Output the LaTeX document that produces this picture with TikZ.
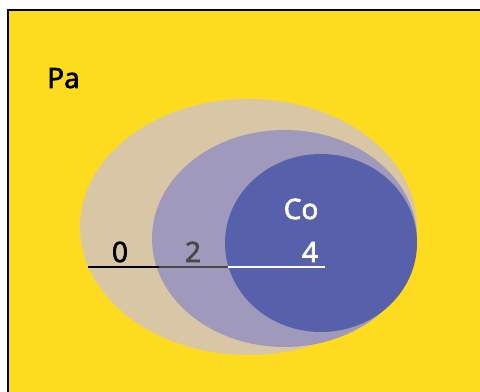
\documentclass[tikz,border=0pt]{standalone}
\usepackage{fontspec}
\setmainfont{Open Sans}
\newfontfamily\lblfont{Open Sans}[UprightFeatures={FakeBold=2.6}]
\usepackage{tikz}
\usetikzlibrary{positioning,calc}
\definecolor{payellow}{RGB}{253,220,31}
\definecolor{ringtan}{RGB}{217,198,165}
\definecolor{ringlav}{RGB}{159,153,188}
\definecolor{coblue}{RGB}{87,96,170}
\definecolor{scalegray}{RGB}{72,72,72}

\begin{document}
\begin{tikzpicture}[x=0.75pt, y=-0.75pt,
  lbl/.style={font=\lblfont\fontsize{21}{25}\selectfont, inner sep=0pt},
  scale line/.style={line width=1.6pt}]
  \useasboundingbox (0,0) rectangle (480,392);
  % Background
  \fill[white] (0,0) rectangle (480,392);
  \draw[fill=payellow, line width=1.1pt] (8,10) rectangle (490,400);
  \node[lbl, anchor=base west] (pa) at (47,88) {Pa};
  % Nested ellipses
  \fill[ringtan] (248.5,227) ellipse [x radius=168.5, y radius=128];
  \fill[ringlav] (284.5,238.5) ellipse [x radius=132.5, y radius=108.5];
  \fill[coblue] (321,243) ellipse [x radius=96, y radius=89];
  \node[lbl, text=white, anchor=base west] (co) at (283.5,219) {Co};
  % Scale
  \coordinate (s0) at (88,266.8);
  \coordinate (s2) at (159,266.8);
  \coordinate (s4) at (228,266.8);
  \coordinate (s6) at (325,266.8);
  \draw[scale line, black] (s0) -- (s2);
  \draw[scale line, scalegray] (s2) -- (s4);
  \draw[scale line, white] (s4) -- (s6);
  \node[lbl, anchor=base] (n0) at (120,262) {0};
  \node[lbl, anchor=base, text=scalegray] (n2) at (193,262) {2};
  \node[lbl, anchor=base, text=white] (n4) at (310,262) {4};
\end{tikzpicture}
\end{document}
